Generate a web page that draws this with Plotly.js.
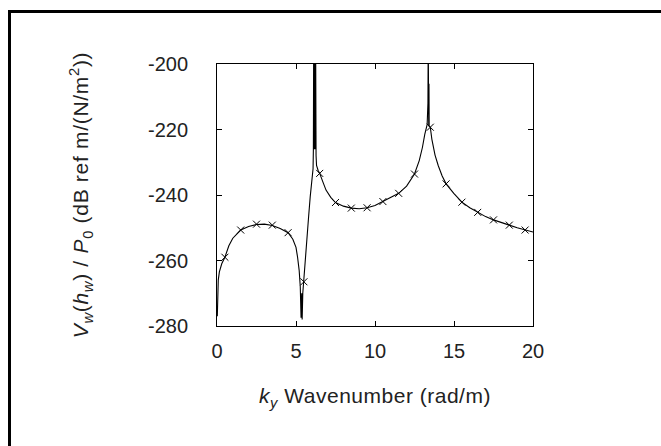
<!DOCTYPE html>
<html>
<head>
<meta charset="utf-8">
<script src="https://cdn.plot.ly/plotly-3.0.1.min.js"></script>
<style>
  html, body { margin: 0; padding: 0; background: #fff; }
  #chart { position: absolute; left: 0; top: 0; width: 661px; height: 446px; }
  #frame { position: absolute; left: 8px; top: 10px; width: 700px; height: 500px;
           border-left: 3px solid #000; border-top: 3px solid #000; pointer-events: none; }
  .ytitle { letter-spacing: 0.7px; }
  .xtitle { letter-spacing: 0.5px; }
</style>
</head>
<body>
<div id="chart"></div>
<div id="frame"></div>
<script>
// Continuous response curve (wavenumber in rad/m, level in dB)
var kyLine = [0.02, 0.04, 0.06, 0.08, 0.15, 0.3, 0.5, 0.75, 1.0, 1.25, 1.5, 2.0, 2.5, 3.0, 3.5, 4.0, 4.5, 4.8, 5.0, 5.1, 5.2, 5.27, 5.32, 5.36, 5.39, 5.43, 5.5, 5.6, 5.7, 5.8, 5.9, 6.0, 6.08, 6.1, 6.12, 6.15, 6.18, 6.21, 6.24, 6.27, 6.3, 6.4, 6.5, 6.7, 6.9, 7.2, 7.5, 8.0, 8.5, 9.0, 9.5, 10.0, 10.5, 11.0, 11.5, 12.0, 12.5, 12.8, 13.0, 13.15, 13.3, 13.35, 13.37, 13.385, 13.4, 13.415, 13.43, 13.5, 13.6, 13.8, 14.0, 14.25, 14.5, 15.0, 15.5, 16.0, 16.5, 17.0, 17.5, 18.0, 18.5, 19.0, 19.5, 20.0];
var levelLine = [-277, -268, -274, -266, -263.5, -261, -259, -255.5, -253.2, -251.8, -250.7, -249.6, -249.0, -248.9, -249.3, -250.2, -251.5, -253.5, -256, -259, -263, -268, -277.5, -270, -278, -270, -266, -259.5, -253, -246.5, -240.5, -235.5, -232, -226, -190, -226, -190, -226, -190, -228, -231, -232.5, -233.4, -236, -238.5, -240.7, -242.3, -243.4, -244.0, -244.2, -243.9, -243.2, -242.0, -240.9, -239.5, -237.3, -233.6, -229.5, -225.5, -221.5, -218.5, -212, -190, -206, -219, -206, -219, -219.3, -223, -227.8, -231, -234.2, -236.6, -239.6, -242.2, -243.9, -245.3, -246.6, -247.6, -248.5, -249.2, -250.0, -250.7, -251.3];

// Sampled points shown with x markers
var kyMarks = [0.5, 1.5, 2.5, 3.5, 4.5, 5.5, 6.5, 7.5, 8.5, 9.5, 10.5, 11.5, 12.5, 13.5, 14.5, 15.5, 16.5, 17.5, 18.5, 19.5];
var levelMarks = [-259.0, -250.7, -248.9, -249.2, -251.5, -266.5, -233.4, -242.3, -244.0, -243.9, -242.0, -239.5, -233.6, -219.3, -236.6, -242.2, -245.3, -247.6, -249.2, -250.7];

var xTicks = [0, 5, 10, 15, 20];
var yTicks = [-280, -260, -240, -220, -200];

var fontFam = 'Liberation Sans, Arial, sans-serif';

var traces = [
  { x: kyLine, y: levelLine, type: 'scatter', mode: 'lines',
    line: { color: '#000', width: 1.1 }, hoverinfo: 'skip' },
  { x: kyMarks, y: levelMarks, type: 'scatter', mode: 'markers',
    marker: { symbol: 'x-thin-open', size: 7, color: '#000', line: { color: '#000', width: 1 } },
    cliponaxis: false }
];

var axisCommon = {
  showgrid: false, zeroline: false, showline: true, linecolor: '#000', linewidth: 1,
  mirror: 'ticks', ticks: 'inside', ticklen: 5, tickcolor: '#000', tickwidth: 1,
  tickfont: { family: fontFam, size: 20, color: '#222' }
};

var layout = {
  width: 661, height: 446,
  margin: { l: 217, r: 128, t: 64, b: 120 },
  paper_bgcolor: 'rgba(0,0,0,0)', plot_bgcolor: '#fff',
  showlegend: false,
  xaxis: Object.assign({}, axisCommon, {
    range: [0, 20], tickvals: xTicks, ticktext: xTicks.map(String),
    ticklabelstandoff: 7,
    title: { text: '<i>k</i><sub><i>y</i></sub> Wavenumber (rad/m)', font: { family: fontFam, size: 21, color: '#222' }, standoff: 27 }
  }),
  yaxis: Object.assign({}, axisCommon, {
    range: [-280, -200], tickvals: yTicks, ticktext: yTicks.map(String),
    ticklabelstandoff: 24,
    title: { text: '<i>V</i><sub><i>w</i></sub>(<i>h</i><sub><i>w</i></sub>) / <i>P</i><sub>0</sub> (dB ref m/(N/m<sup>2</sup>))', font: { family: fontFam, size: 21, color: '#222' }, standoff: 53 }
  })
};

Plotly.newPlot('chart', traces, layout, { staticPlot: true, displayModeBar: false });
</script>
</body>
</html>
